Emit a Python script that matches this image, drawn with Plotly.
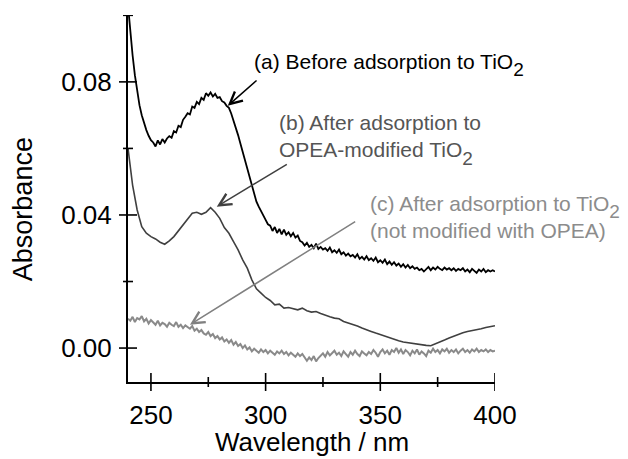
import plotly.graph_objects as go

wavelength_fine = list(range(240, 401))
wavelength_coarse = list(range(240, 401, 2))

abs_before = [
    0.1030, 0.0950, 0.0880, 0.0820, 0.0770, 0.0730, 0.0700, 0.0675, 0.0655, 0.0638,  # 240-249
    0.0625, 0.0618, 0.0606, 0.0624, 0.0612, 0.0628, 0.0618, 0.0630, 0.0637, 0.0632,  # 250-259
    0.0652, 0.0648, 0.0668, 0.0664, 0.0686, 0.0695, 0.0706, 0.0702, 0.0726, 0.0722,  # 260-269
    0.0740, 0.0733, 0.0752, 0.0746, 0.0766, 0.0758, 0.0768, 0.0756, 0.0764, 0.0752,  # 270-279
    0.0754, 0.0742, 0.0738, 0.0728, 0.0722, 0.0705, 0.0685, 0.0662, 0.0640, 0.0615,  # 280-289
    0.0590, 0.0562, 0.0535, 0.0512, 0.0485, 0.0462, 0.0440, 0.0425, 0.0410, 0.0398,  # 290-299
    0.0385, 0.0372, 0.0368, 0.0352, 0.0364, 0.0346, 0.0358, 0.0342, 0.0356, 0.0340,  # 300-309
    0.0348, 0.0336, 0.0346, 0.0332, 0.0338, 0.0322, 0.0318, 0.0308, 0.0316, 0.0304,  # 310-319
    0.0310, 0.0300, 0.0314, 0.0298, 0.0304, 0.0296, 0.0300, 0.0292, 0.0302, 0.0288,  # 320-329
    0.0294, 0.0286, 0.0296, 0.0282, 0.0288, 0.0278, 0.0284, 0.0276, 0.0280, 0.0272,  # 330-339
    0.0282, 0.0268, 0.0274, 0.0266, 0.0276, 0.0264, 0.0270, 0.0262, 0.0272, 0.0258,  # 340-349
    0.0264, 0.0256, 0.0266, 0.0252, 0.0260, 0.0250, 0.0258, 0.0248, 0.0254, 0.0244,  # 350-359
    0.0252, 0.0242, 0.0250, 0.0240, 0.0246, 0.0238, 0.0242, 0.0234, 0.0238, 0.0230,  # 360-369
    0.0236, 0.0244, 0.0234, 0.0242, 0.0236, 0.0244, 0.0238, 0.0234, 0.0242, 0.0236,  # 370-379
    0.0240, 0.0234, 0.0240, 0.0232, 0.0238, 0.0234, 0.0240, 0.0230, 0.0236, 0.0228,  # 380-389
    0.0238, 0.0232, 0.0226, 0.0236, 0.0230, 0.0238, 0.0228, 0.0234, 0.0230, 0.0234,  # 390-399
    0.0230,                                                                          # 400
]

abs_opea = [
    0.0600, 0.0490, 0.0415, 0.0365, 0.0345, 0.0335, 0.0328, 0.0318, 0.0312, 0.0322,
    0.0335, 0.0352, 0.0372, 0.0388, 0.0405, 0.0408, 0.0402, 0.0408, 0.0422, 0.0408,
    0.0390, 0.0362, 0.0345, 0.0320, 0.0295, 0.0265, 0.0240, 0.0205, 0.0178, 0.0165,
    0.0152, 0.0143, 0.0130, 0.0132, 0.0120, 0.0122, 0.0118, 0.0115, 0.0120, 0.0112,
    0.0108, 0.0110, 0.0104, 0.0098, 0.0094, 0.0090, 0.0088, 0.0080, 0.0076, 0.0070,
    0.0066, 0.0060, 0.0056, 0.0050, 0.0045, 0.0040, 0.0036, 0.0032, 0.0026, 0.0022,
    0.0018, 0.0016, 0.0012, 0.0010, 0.0009, 0.0008, 0.0007, 0.0012, 0.0018, 0.0024,
    0.0030, 0.0036, 0.0040, 0.0046, 0.0050, 0.0052, 0.0056, 0.0058, 0.0062, 0.0064,
    0.0067,
]

abs_plain = [
    0.0088, 0.0082, 0.0094, 0.0078, 0.0090, 0.0086, 0.0096, 0.0080, 0.0088, 0.0074,  # 240-249
    0.0084, 0.0078, 0.0070, 0.0082, 0.0068, 0.0076, 0.0072, 0.0064, 0.0076, 0.0070,  # 250-259
    0.0066, 0.0078, 0.0064, 0.0070, 0.0060, 0.0068, 0.0062, 0.0058, 0.0066, 0.0052,  # 260-269
    0.0058, 0.0048, 0.0054, 0.0044, 0.0040, 0.0048, 0.0036, 0.0042, 0.0030, 0.0036,  # 270-279
    0.0026, 0.0032, 0.0020, 0.0026, 0.0016, 0.0024, 0.0010, 0.0018, 0.0006, 0.0012,  # 280-289
    0.0000, 0.0008, -0.0004, 0.0002, -0.0010, -0.0002, -0.0008, -0.0014, -0.0004, -0.0012,  # 290-299
    -0.0006, -0.0016, -0.0008, -0.0014, -0.0020, -0.0010, -0.0016, -0.0008, -0.0018, -0.0012,  # 300-309
    -0.0022, -0.0014, -0.0020, -0.0026, -0.0016, -0.0024, -0.0018, -0.0030, -0.0038, -0.0028,  # 310-319
    -0.0036, -0.0024, -0.0040, -0.0030, -0.0022, -0.0016, -0.0026, -0.0012, -0.0022, -0.0016,  # 320-329
    -0.0008, -0.0020, -0.0014, -0.0024, -0.0010, -0.0018, -0.0026, -0.0012, -0.0020, -0.0008,  # 330-339
    -0.0018, -0.0024, -0.0010, -0.0016, -0.0022, -0.0012, -0.0018, -0.0006, -0.0014, -0.0026,  # 340-349
    -0.0012, -0.0004, -0.0016, -0.0008, -0.0020, -0.0006, -0.0012, 0.0000, -0.0014, -0.0004,  # 350-359
    -0.0018, -0.0006, -0.0012, -0.0022, -0.0008, -0.0016, -0.0004, -0.0020, -0.0010, -0.0016,  # 360-369
    -0.0024, -0.0008, -0.0014, -0.0002, -0.0012, -0.0006, -0.0016, -0.0004, -0.0010, -0.0002,  # 370-379
    -0.0014, -0.0006, -0.0012, -0.0004, -0.0016, -0.0008, -0.0002, -0.0012, -0.0006, -0.0014,  # 380-389
    -0.0004, -0.0010, -0.0002, -0.0012, -0.0006, -0.0010, -0.0004, -0.0012, -0.0006, -0.0010,  # 390-399
    -0.0008,                                                                                  # 400
]

x_ticks = [250, 300, 350, 400]
x_minor = [275, 325, 375]
y_ticks = [0.00, 0.04, 0.08]
y_minor = [0.02, 0.06, 0.10]
y_tick_text = ["0.00", "0.04", "0.08"]

FONT = "Arial, 'Liberation Sans', Helvetica, sans-serif"
X_RANGE = [240, 400.01]
Y_RANGE = [-0.0102, 0.1001]
MAJOR_LEN, MINOR_LEN, TICK_W = 9, 5, 1.6

fig = go.Figure()
fig.add_trace(go.Scatter(x=wavelength_fine, y=abs_plain, mode="lines",
                         line=dict(color="#8a8a8a", width=2)))
fig.add_trace(go.Scatter(x=wavelength_coarse, y=abs_opea, mode="lines",
                         line=dict(color="#404040", width=1.6)))
fig.add_trace(go.Scatter(x=wavelength_fine, y=abs_before, mode="lines",
                         line=dict(color="#000000", width=1.8)))

def axis(vals, rng, text):
    # axis ticks kept (transparent) only for label spacing; visible ticks are shapes below
    return dict(range=rng, showgrid=False, zeroline=False, tickvals=vals, ticktext=text,
                ticks="outside", ticklen=MAJOR_LEN, tickwidth=TICK_W,
                tickcolor="rgba(0,0,0,0)",
                showline=True, linewidth=2, linecolor="black", tickfont=dict(size=26))

fig.update_layout(
    width=628, height=459,
    margin=dict(l=128, r=133, t=15, b=77),
    paper_bgcolor="white", plot_bgcolor="white",
    showlegend=False,
    font=dict(family=FONT, color="black", size=26),
    xaxis=axis(x_ticks, X_RANGE, [str(v) for v in x_ticks]),
    yaxis=axis(y_ticks, Y_RANGE, y_tick_text),
)

# ticks that cross the axis lines
for v, ln in [(t, MAJOR_LEN) for t in x_ticks] + [(t, MINOR_LEN) for t in x_minor]:
    fig.add_shape(type="line", xref="x", x0=v, x1=v, yref="paper", ysizemode="pixel",
                  yanchor=0, y0=-ln, y1=ln, layer="above",
                  line=dict(color="black", width=TICK_W))
for v, ln in [(t, MAJOR_LEN) for t in y_ticks] + [(t, MINOR_LEN) for t in y_minor]:
    fig.add_shape(type="line", yref="y", y0=v, y1=v, xref="paper", xsizemode="pixel",
                  xanchor=0, x0=-ln, x1=ln, layer="above",
                  line=dict(color="black", width=TICK_W))

# axis titles
fig.add_annotation(text="Absorbance", xref="paper", yref="paper", x=-0.286, y=0.471,
                   textangle=-90, showarrow=False, font=dict(size=27, color="black"),
                   xanchor="center", yanchor="middle")
fig.add_annotation(text="Wavelength / nm", xref="paper", yref="paper", x=0.5, y=-0.163,
                   showarrow=False, font=dict(size=26, color="black"),
                   xanchor="center", yanchor="middle")

SUB = '<sub><sub><span style="font-size:19px">2</span></sub></sub>'

labels = [
    ("(a) Before adsorption to TiO" + SUB, 294.0, 0.0850, "#000000"),
    ("(b) After adsorption to<br>OPEA-modified TiO" + SUB, 305.0, 0.0625, "#555555"),
    ("(c) After adsorption to TiO" + SUB + "<br>(not modified with OPEA)", 344.5, 0.0395, "#8c8c8c"),
]
for text, lx, ly, col in labels:
    fig.add_annotation(text=text, x=lx, y=ly, xref="x", yref="y", showarrow=False,
                       xanchor="left", yanchor="middle", align="left",
                       font=dict(size=21, color=col))

arrows = [
    (283.5, 0.0728, 296.7, 0.0808, "#000000"),
    (278.7, 0.0425, 309.9, 0.0555, "#404040"),
    (267.0, 0.0070, 339.7, 0.0383, "#808080"),
]
for hx, hy, tx, ty, col in arrows:
    fig.add_annotation(x=hx, y=hy, ax=tx, ay=ty, xref="x", yref="y", axref="x", ayref="y",
                       text="", showarrow=True, arrowhead=5, arrowsize=1.6, arrowwidth=1.5,
                       arrowcolor=col, standoff=0, startstandoff=0)

fig.write_html("out.html")
